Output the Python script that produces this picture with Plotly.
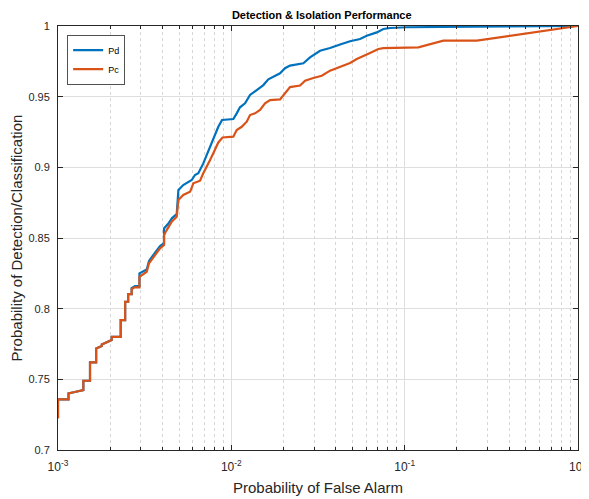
import plotly.graph_objects as go

# Probability of false alarm / detection (Pd)
pd_fa = [0.001, 0.001, 0.00115, 0.00115, 0.00125, 0.00140, 0.00140, 0.00153, 0.00153, 0.00166,
         0.00166, 0.00179, 0.00179, 0.00204, 0.00204, 0.00230, 0.00230, 0.00244, 0.00244, 0.00254,
         0.00254, 0.00266, 0.00266, 0.00278, 0.00295, 0.00295, 0.00325, 0.00335, 0.00363, 0.00388,
         0.00409, 0.00409, 0.00431, 0.00455, 0.00484, 0.00495, 0.00528, 0.00591, 0.00617, 0.00645,
         0.00689, 0.00721, 0.00754, 0.00787, 0.00841, 0.00884, 0.01027, 0.01074, 0.01122, 0.01200,
         0.01282, 0.01401, 0.01530, 0.01635, 0.01747, 0.01910, 0.02041, 0.02181, 0.02603, 0.02845,
         0.03249, 0.03711, 0.04240, 0.04841, 0.05529, 0.06044, 0.06903, 0.07535, 0.08237, 0.1028, 1.0]
pd_val = [0.7224, 0.7358, 0.7358, 0.7401, 0.7410, 0.7424, 0.7490, 0.7490, 0.7620, 0.7620,
          0.7719, 0.7735, 0.7747, 0.7778, 0.7801, 0.7801, 0.7919, 0.7919, 0.8049, 0.8049,
          0.8103, 0.8103, 0.8146, 0.8160, 0.8160, 0.8250, 0.8277, 0.8337, 0.8397, 0.8443,
          0.8464, 0.8568, 0.8599, 0.8641, 0.8669, 0.8839, 0.8875, 0.8910, 0.8946, 0.8958,
          0.9028, 0.9087, 0.9144, 0.9205, 0.9287, 0.9335, 0.9342, 0.9382, 0.9425, 0.9453,
          0.9512, 0.9547, 0.9582, 0.9623, 0.9641, 0.9665, 0.9701, 0.9720, 0.9736, 0.9778,
          0.9825, 0.9844, 0.9869, 0.9892, 0.9908, 0.9931, 0.9955, 0.9979, 0.9986, 0.9991, 1.0]

# Probability of false alarm / classification (Pc)
pc_fa = [0.001, 0.001, 0.00115, 0.00115, 0.00125, 0.00140, 0.00140, 0.00153, 0.00153, 0.00166,
         0.00166, 0.00179, 0.00179, 0.00204, 0.00204, 0.00230, 0.00230, 0.00244, 0.00244, 0.00254,
         0.00254, 0.00266, 0.00266, 0.00278, 0.00295, 0.00295, 0.00325, 0.00335, 0.00363, 0.00388,
         0.00409, 0.00409, 0.00424, 0.00453, 0.00484, 0.00495, 0.00528, 0.00578, 0.00604, 0.00660,
         0.00689, 0.00721, 0.00754, 0.00787, 0.00841, 0.00890, 0.01027, 0.01074, 0.01148, 0.01227,
         0.01282, 0.01370, 0.01464, 0.01565, 0.01672, 0.01910, 0.01996, 0.02181, 0.02492, 0.02663,
         0.02973, 0.03324, 0.03711, 0.04240, 0.04841, 0.05292, 0.05777, 0.06315, 0.07051, 0.07535,
         0.1200, 0.1402, 0.1532, 0.1672, 0.2607, 1.0]
pc_val = [0.7224, 0.7358, 0.7358, 0.7401, 0.7410, 0.7424, 0.7490, 0.7490, 0.7620, 0.7620,
          0.7719, 0.7735, 0.7747, 0.7778, 0.7801, 0.7801, 0.7919, 0.7919, 0.8049, 0.8049,
          0.8103, 0.8103, 0.8139, 0.8151, 0.8151, 0.8226, 0.8261, 0.8321, 0.8379, 0.8427,
          0.8450, 0.8521, 0.8556, 0.8615, 0.8650, 0.8769, 0.8804, 0.8827, 0.8887, 0.8905,
          0.8958, 0.9002, 0.9052, 0.9099, 0.9176, 0.9211, 0.9217, 0.9264, 0.9287, 0.9323,
          0.9370, 0.9382, 0.9406, 0.9453, 0.9476, 0.9481, 0.9512, 0.9568, 0.9579, 0.9613,
          0.9632, 0.9648, 0.9684, 0.9712, 0.9738, 0.9766, 0.9790, 0.9809, 0.9837, 0.9844,
          0.9849, 0.9873, 0.9882, 0.9896, 0.9896, 1.0]

x_tickvals = [0.001, 0.01, 0.1, 1]
x_ticktext = ["10<sup>-3</sup>", "10<sup>-2</sup>", "10<sup>-1</sup>", "10<sup>0</sup>"]
y_tickvals = [0.7, 0.75, 0.8, 0.85, 0.9, 0.95, 1.0]
y_ticktext = ["0.7", "0.75", "0.8", "0.85", "0.9", "0.95", "1"]
x_minor = [m * 10.0 ** e for e in (-3, -2, -1) for m in range(2, 10)]

FONT = "Liberation Sans, Arial, Helvetica, sans-serif"
AX = "#262626"

fig = go.Figure()
fig.add_trace(go.Scatter(x=pd_fa, y=pd_val, mode="lines", name="Pd",
                         line=dict(color="#0072BD", width=2.2)))
fig.add_trace(go.Scatter(x=pc_fa, y=pc_val, mode="lines", name="Pc",
                         line=dict(color="#D95319", width=2.2)))

# the page body has an 8px margin, so the figure is sized to 581x491
fig.update_layout(
    width=581, height=491,
    margin=dict(l=50, r=11, t=18, b=49, autoexpand=False),
    paper_bgcolor="white", plot_bgcolor="white",
    font=dict(family=FONT, color=AX, size=11),
    title=dict(text="<b>Detection & Isolation Performance</b>", x=0.54, xanchor="center",
               y=1 - 7 / 491, yanchor="middle", yref="container",
               font=dict(size=11, color="#000000")),
    showlegend=True,
    legend=dict(x=0.018, y=0.979, xanchor="left", yanchor="top",
                bgcolor="white", bordercolor=AX, borderwidth=0.8,
                font=dict(size=9, color="#000000"),
                itemwidth=30, tracegroupgap=0),
    xaxis=dict(type="log", range=[-3, 0], tickmode="array", automargin=False,
               tickvals=x_tickvals, ticktext=x_ticktext,
               ticks="inside", ticklen=5, tickcolor=AX, tickwidth=0.8,
               showline=True, linecolor=AX, linewidth=1, mirror="ticks",
               showgrid=True, gridcolor="#dedede", gridwidth=1,
               zeroline=False, tickfont=dict(size=12, color=AX), ticklabelstandoff=6,
               minor=dict(tickmode="array", tickvals=x_minor, ticks="inside", ticklen=3,
                          tickcolor=AX, showgrid=True, gridcolor="#d6d6d6",
                          griddash="dot", gridwidth=0.7),
               title=dict(text="Probability of False Alarm", font=dict(size=15, color=AX),
                          standoff=9)),
    yaxis=dict(range=[0.7, 1.0], tickmode="array", automargin=False,
               tickvals=y_tickvals, ticktext=y_ticktext,
               ticks="inside", ticklen=5, tickcolor=AX, tickwidth=0.8,
               showline=True, linecolor=AX, linewidth=1, mirror="ticks",
               showgrid=True, gridcolor="#dedede", gridwidth=1,
               zeroline=False, tickfont=dict(size=11, color=AX), ticklabelstandoff=5,
               title=dict(text="Probability of Detection/Classification",
                          font=dict(size=15, color=AX), standoff=2)),
)

fig.write_html("out.html")
